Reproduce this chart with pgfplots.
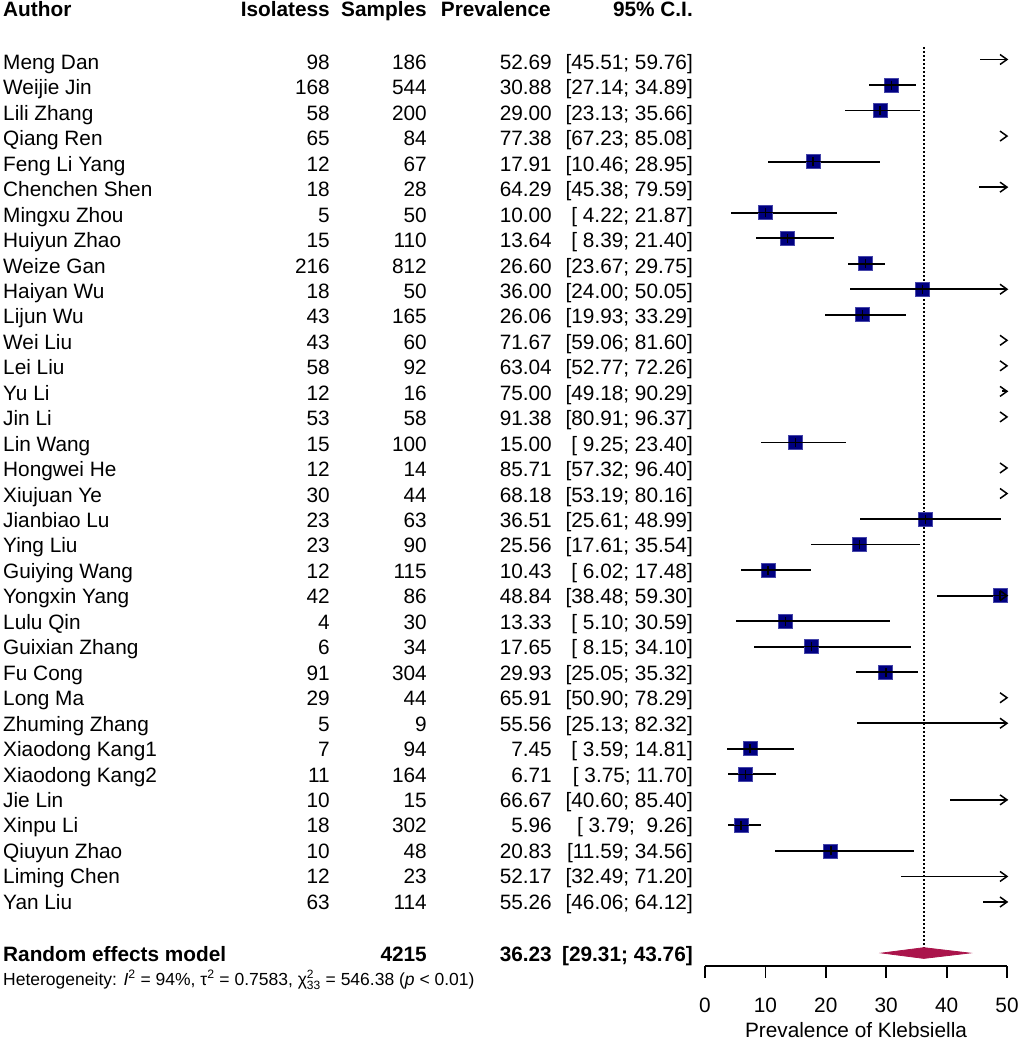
\documentclass[border=0pt]{standalone}
\usepackage{fontspec}
\setmainfont{Liberation Sans}
\usepackage{pgfplots}
\usepackage{pgfplotstable}
\pgfplotsset{compat=1.18}

\definecolor{sqfill}{RGB}{0,0,128}
\definecolor{sqedge}{RGB}{70,70,170}
\definecolor{diam}{RGB}{170,20,75}

\newcommand\mf{\fontsize{20.8}{25}\selectfont}
\newcommand\sm[1]{\mbox{\fontsize{12}{12}\selectfont #1}}

% open arrow head used where the CI runs past 50
\pgfdeclareplotmark{chev}{%
  \pgfpathmoveto{\pgfpoint{-7pt}{5pt}}%
  \pgfpathlineto{\pgfpoint{0pt}{0pt}}%
  \pgfpathlineto{\pgfpoint{-7pt}{-5pt}}%
  \pgfusepathqstroke}
% cross drawn over each square: CI line through it and estimate tick
\pgfdeclareplotmark{est}{%
  \pgfpathmoveto{\pgfpoint{-7.5pt}{0pt}}%
  \pgfpathlineto{\pgfpoint{7.5pt}{0pt}}%
  \pgfpathmoveto{\pgfpoint{0pt}{-4.5pt}}%
  \pgfpathlineto{\pgfpoint{0pt}{4.5pt}}%
  \pgfusepathqstroke}

% row, prevalence, lower, upper
\pgfplotstableread{
row est lo hi
1 52.69 45.51 59.76
2 30.88 27.14 34.89
3 29.00 23.13 35.66
4 77.38 67.23 85.08
5 17.91 10.46 28.95
6 64.29 45.38 79.59
7 10.00 4.22 21.87
8 13.64 8.39 21.40
9 26.60 23.67 29.75
10 36.00 24.00 50.05
11 26.06 19.93 33.29
12 71.67 59.06 81.60
13 63.04 52.77 72.26
14 75.00 49.18 90.29
15 91.38 80.91 96.37
16 15.00 9.25 23.40
17 85.71 57.32 96.40
18 68.18 53.19 80.16
19 36.51 25.61 48.99
20 25.56 17.61 35.54
21 10.43 6.02 17.48
22 48.84 38.48 59.30
23 13.33 5.10 30.59
24 17.65 8.15 34.10
25 29.93 25.05 35.32
26 65.91 50.90 78.29
27 55.56 25.13 82.32
28 7.45 3.59 14.81
29 6.71 3.75 11.70
30 66.67 40.60 85.40
31 5.96 3.79 9.26
32 20.83 11.59 34.56
33 52.17 32.49 71.20
34 55.26 46.06 64.12
}\studies

\newcommand\entry[6]{%
  \pgfmathsetmacro\yb{69.4+(#1-1)*25.45}%
  \node[txt,anchor=base west] at (3pt,-\yb pt) {#2};
  \node[txt,anchor=base east] at (330pt,-\yb pt) {#3};
  \node[txt,anchor=base east] at (427pt,-\yb pt) {#4};
  \node[txt,anchor=base east] at (552pt,-\yb pt) {#5};
  \node[txt,anchor=base east] at (693pt,-\yb pt) {#6};
}

\begin{document}
\begin{tikzpicture}[txt/.style={inner sep=0pt,font=\mf}]
\begin{axis}[
  at={(705pt,-966pt)}, anchor=south west,
  scale only axis, width=302pt, height=966pt,
  xmin=0, xmax=50, ymin=-36.508, ymax=1.3306,
  axis x line*=bottom, axis y line=none,
  clip=true,
  xtick={0,10,20,30,40,50},
  tick align=outside, major tick length=11.5pt,
  x axis line style={line width=1.8pt,-},
  xtick style={line width=1.8pt,black},
  /pgf/number format/assume math mode=true,
  xticklabel style={font=\mf, anchor=base, yshift=-35.4pt},
  xlabel={Prevalence of Klebsiella},
  xlabel style={font=\mf, at={(axis description cs:0.5,0)}, anchor=base, yshift=-71pt},
]
% pooled estimate reference line
\addplot[black, line width=1.8pt, dash pattern=on 2pt off 2pt]
  coordinates {(36.23,-0.51) (36.23,-36)};
% confidence intervals
\addplot[only marks, mark=none,
  error bars/.cd, x dir=both, x explicit, error mark=none,
  error bar style={draw=black, line width=1.8pt}]
  table[x=est, y expr=-\thisrow{row},
    x error plus expr=\thisrow{hi}-\thisrow{est},
    x error minus expr=\thisrow{est}-\thisrow{lo}] {\studies};
% study squares
\addplot[only marks, mark=square*, mark size=7pt, restrict x to domain=0:50,
  mark options={fill=sqfill, draw=sqedge, line width=0.8pt}]
  table[x=est, y expr=-\thisrow{row}] {\studies};
% point estimate cross
\addplot[only marks, mark=est, restrict x to domain=0:50,
  mark options={black, line width=1.6pt}]
  table[x=est, y expr=-\thisrow{row}] {\studies};
% intervals that run past 50
\addplot[only marks, mark=chev, mark options={black, line width=1.5pt}]
  coordinates {(50,-1) (50,-4) (50,-6) (50,-10) (50,-12) (50,-13) (50,-14)
    (50,-15) (50,-17) (50,-18) (50,-22) (50,-26) (50,-27) (50,-30) (50,-33) (50,-34)};
% random effects model
\addplot[fill=diam, draw=diam, line width=0.8pt]
  coordinates {(29.31,-36) (36.23,-35.79) (43.76,-36) (36.23,-36.21)} --cycle;
\end{axis}

\node[txt,anchor=base west] at (3pt,-16.7pt) {\bfseries Author};
\node[txt,anchor=base east] at (330pt,-16.7pt) {\bfseries Isolatess};
\node[txt,anchor=base east] at (427pt,-16.7pt) {\bfseries Samples};
\node[txt,anchor=base east] at (551pt,-16.7pt) {\bfseries Prevalence};
\node[txt,anchor=base east] at (693pt,-16.7pt) {\bfseries 95\% C.I.};

\entry{1}{Meng Dan}{98}{186}{52.69}{[45.51; 59.76]}
\entry{2}{Weijie Jin}{168}{544}{30.88}{[27.14; 34.89]}
\entry{3}{Lili Zhang}{58}{200}{29.00}{[23.13; 35.66]}
\entry{4}{Qiang Ren}{65}{84}{77.38}{[67.23; 85.08]}
\entry{5}{Feng Li Yang}{12}{67}{17.91}{[10.46; 28.95]}
\entry{6}{Chenchen Shen}{18}{28}{64.29}{[45.38; 79.59]}
\entry{7}{Mingxu Zhou}{5}{50}{10.00}{[\ 4.22; 21.87]}
\entry{8}{Huiyun Zhao}{15}{110}{13.64}{[\ 8.39; 21.40]}
\entry{9}{Weize Gan}{216}{812}{26.60}{[23.67; 29.75]}
\entry{10}{Haiyan Wu}{18}{50}{36.00}{[24.00; 50.05]}
\entry{11}{Lijun Wu}{43}{165}{26.06}{[19.93; 33.29]}
\entry{12}{Wei Liu}{43}{60}{71.67}{[59.06; 81.60]}
\entry{13}{Lei Liu}{58}{92}{63.04}{[52.77; 72.26]}
\entry{14}{Yu Li}{12}{16}{75.00}{[49.18; 90.29]}
\entry{15}{Jin Li}{53}{58}{91.38}{[80.91; 96.37]}
\entry{16}{Lin Wang}{15}{100}{15.00}{[\ 9.25; 23.40]}
\entry{17}{Hongwei He}{12}{14}{85.71}{[57.32; 96.40]}
\entry{18}{Xiujuan Ye}{30}{44}{68.18}{[53.19; 80.16]}
\entry{19}{Jianbiao Lu}{23}{63}{36.51}{[25.61; 48.99]}
\entry{20}{Ying Liu}{23}{90}{25.56}{[17.61; 35.54]}
\entry{21}{Guiying Wang}{12}{115}{10.43}{[\ 6.02; 17.48]}
\entry{22}{Yongxin Yang}{42}{86}{48.84}{[38.48; 59.30]}
\entry{23}{Lulu Qin}{4}{30}{13.33}{[\ 5.10; 30.59]}
\entry{24}{Guixian Zhang}{6}{34}{17.65}{[\ 8.15; 34.10]}
\entry{25}{Fu Cong}{91}{304}{29.93}{[25.05; 35.32]}
\entry{26}{Long Ma}{29}{44}{65.91}{[50.90; 78.29]}
\entry{27}{Zhuming Zhang}{5}{9}{55.56}{[25.13; 82.32]}
\entry{28}{Xiaodong Kang1}{7}{94}{7.45}{[\ 3.59; 14.81]}
\entry{29}{Xiaodong Kang2}{11}{164}{6.71}{[\ 3.75; 11.70]}
\entry{30}{Jie Lin}{10}{15}{66.67}{[40.60; 85.40]}
\entry{31}{Xinpu Li}{18}{302}{5.96}{[\ 3.79;\ \ 9.26]}
\entry{32}{Qiuyun Zhao}{10}{48}{20.83}{[11.59; 34.56]}
\entry{33}{Liming Chen}{12}{23}{52.17}{[32.49; 71.20]}
\entry{34}{Yan Liu}{63}{114}{55.26}{[46.06; 64.12]}

\node[txt,anchor=base west] at (3pt,-961.7pt) {\bfseries Random effects model};
\node[txt,anchor=base east] at (427pt,-961.7pt) {\bfseries 4215};
\node[txt,anchor=base east] at (552pt,-961.7pt) {\bfseries 36.23};
\node[txt,anchor=base east] at (693pt,-961.7pt) {\bfseries [29.31; 43.76]};
\node[inner sep=0pt,anchor=base west,font=\fontsize{17.5}{20}\selectfont] at (3pt,-985pt)
  {Heterogeneity: \textit{I}\textsuperscript{2} = 94\%, τ\textsuperscript{2} = 0.7583, χ${}^{\sm{2}}_{\sm{33}}$ = 546.38 (\textit{p} < 0.01)};

\pgfresetboundingbox
\path[use as bounding box] (0,0) rectangle (1021pt,-1040pt);
\end{tikzpicture}
\end{document}
